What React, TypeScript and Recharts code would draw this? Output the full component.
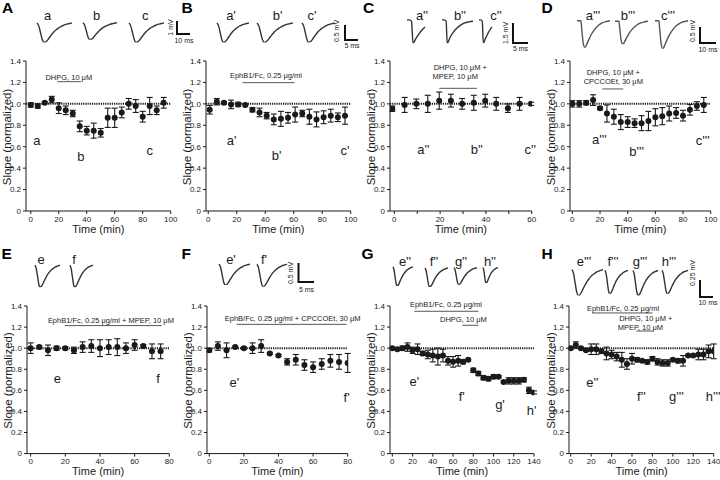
import React from 'react';
import {
  ComposedChart, Scatter, ErrorBar, XAxis, YAxis, ReferenceLine, ReferenceDot,
  LineChart, Line,
} from 'recharts';

const FONT = '"Liberation Sans", Arial, Helvetica, sans-serif';
const INK = '#1a1a1a';

// ---------------- data (time in min, normalized slope, SEM) ----------------
const timeA = [0, 5, 10, 15, 20, 25, 30, 35, 40, 45, 50, 55, 60, 65, 70, 75, 80, 85, 90, 95];
const slopeA = [0.99, 0.98, 1.01, 1.04, 0.96, 0.94, 0.91, 0.79, 0.75, 0.75, 0.73, 0.87, 0.87, 0.92, 1.0, 0.98, 0.88, 0.98, 0.94, 1.01];
const semA = [0.02, 0.02, 0.01, 0.03, 0.05, 0.04, 0.03, 0.05, 0.04, 0.07, 0.04, 0.09, 0.09, 0.05, 0.05, 0.06, 0.05, 0.08, 0.04, 0.05];

const timeB = [1, 6, 11, 16, 21, 26, 31, 36, 41, 46, 51, 56, 61, 66, 71, 76, 81, 86, 91, 96];
const slopeB = [0.945, 1.02, 1.01, 0.995, 0.995, 0.99, 0.945, 0.92, 0.89, 0.855, 0.86, 0.87, 0.9, 0.91, 0.88, 0.855, 0.875, 0.89, 0.875, 0.89];
const semB = [0.04, 0.03, 0.01, 0.04, 0.02, 0.01, 0.02, 0.04, 0.03, 0.05, 0.07, 0.05, 0.07, 0.03, 0.07, 0.07, 0.06, 0.06, 0.04, 0.08];

const timeC = [-0.9, 4.5, 9.6, 14.6, 19.6, 24.7, 29.6, 34.7, 39.7, 44.5, 49.6, 54.7, 59.8];
const slopeC = [0.955, 0.99, 1.0, 1.0, 1.03, 1.03, 1.0, 1.01, 1.03, 1.0, 0.96, 1.0, 1.0];
const semC = [0.025, 0.07, 0.045, 0.08, 0.08, 0.06, 0.05, 0.07, 0.06, 0.06, 0.04, 0.06, 0.015];

const timeD = [0, 5, 10, 15, 20, 25, 30, 35, 40, 45, 50, 55, 60, 65, 70, 75, 80, 85, 90, 95];
const slopeD = [1.0, 1.0, 1.01, 1.035, 0.96, 0.91, 0.88, 0.83, 0.83, 0.82, 0.82, 0.84, 0.875, 0.885, 0.91, 0.915, 0.89, 0.945, 0.98, 0.99];
const semD = [0.03, 0.03, 0.02, 0.05, 0.015, 0.08, 0.07, 0.07, 0.05, 0.04, 0.07, 0.09, 0.08, 0.08, 0.07, 0.05, 0.05, 0.05, 0.04, 0.07];

const timeE = [0, 5, 10, 15, 20, 25, 30, 35, 40, 45, 50, 55, 60, 65, 70, 75];
const slopeE = [1.0, 1.01, 0.98, 1.0, 1.0, 0.98, 1.01, 1.02, 1.0, 1.01, 1.01, 1.0, 1.03, 1.02, 0.97, 0.97];
const semE = [0.05, 0.015, 0.05, 0.02, 0.015, 0.03, 0.05, 0.06, 0.08, 0.07, 0.08, 0.05, 0.05, 0.015, 0.07, 0.07];

const timeF = [0, 5, 10, 15, 20, 25, 30, 35, 40, 45, 50, 55, 60, 65, 70, 75, 80];
const slopeF = [0.98, 1.02, 0.98, 1.01, 1.0, 1.0, 1.02, 0.95, 0.93, 0.87, 0.89, 0.84, 0.82, 0.85, 0.88, 0.87, 0.86];
const semF = [0.015, 0.04, 0.07, 0.01, 0.01, 0.05, 0.06, 0.01, 0.01, 0.03, 0.05, 0.05, 0.05, 0.05, 0.06, 0.07, 0.09];

const timeG = [0, 5, 10, 15, 20, 25, 30, 35, 40, 45, 50, 55, 60, 65, 70, 75, 80, 85, 90, 95, 100, 105, 110, 115, 120, 125, 130, 135, 140];
const slopeG = [1.0, 0.99, 1.0, 1.01, 0.98, 0.99, 0.95, 0.94, 0.93, 0.92, 0.93, 0.88, 0.87, 0.88, 0.87, 0.89, 0.79, 0.76, 0.72, 0.71, 0.73, 0.73, 0.68, 0.69, 0.69, 0.69, 0.7, 0.6, 0.58];
const semG = [0.01, 0.01, 0.02, 0.04, 0.03, 0.05, 0.02, 0.04, 0.06, 0.08, 0.06, 0.04, 0.05, 0.05, 0.02, 0.01, 0.02, 0.02, 0.02, 0.02, 0.02, 0.01, 0.01, 0.03, 0.03, 0.03, 0.02, 0.03, 0.015];

const timeH = [0, 5, 10, 15, 20, 25, 30, 35, 40, 45, 50, 55, 60, 65, 70, 75, 80, 85, 90, 95, 100, 105, 110, 115, 120, 125, 130, 135, 140];
const slopeH = [1.0, 1.03, 1.0, 0.98, 0.99, 0.99, 0.97, 0.95, 0.94, 0.92, 0.89, 0.85, 0.9, 0.89, 0.88, 0.87, 0.9, 0.87, 0.86, 0.86, 0.89, 0.88, 0.88, 0.93, 0.93, 0.94, 0.94, 0.97, 0.97];
const semH = [0.01, 0.03, 0.01, 0.01, 0.05, 0.05, 0.02, 0.06, 0.04, 0.04, 0.07, 0.05, 0.05, 0.02, 0.01, 0.02, 0.02, 0.03, 0.03, 0.03, 0.01, 0.02, 0.05, 0.01, 0.01, 0.05, 0.05, 0.06, 0.07];

// drug application periods (min)
const drugA = [{ start: 19, end: 36 }];
const drugB = [{ start: 24, end: 60.6 }];
const drugC = [{ start: 19.6, end: 36.1 }];
const drugD = [{ start: 21.7, end: 36.8 }];
const drugE = [{ start: 19.8, end: 75.6 }];
const drugF = [{ start: 15.8, end: 79.4 }];
const drugG = [{ start: 21.7, end: 85 }, { start: 69.2, end: 85 }];
const drugH = [{ start: 20.9, end: 80 }, { start: 64.3, end: 80.6 }];

// ticks
const yTicks = [0, 0.2, 0.4, 0.6, 0.8, 1.0, 1.2, 1.4];
const xTicks100 = [0, 20, 40, 60, 80, 100];
const xTicks60 = [0, 10, 20, 30, 40, 50, 60];
const xTicks80 = [0, 20, 40, 60, 80];
const xTicks140 = [0, 20, 40, 60, 80, 100, 120, 140];

// representative fEPSP waveforms (arbitrary time units, normalized amplitude)
const epspTime = [0, 1, 2, 3, 4, 5, 6, 7, 8, 9, 10, 11, 12, 13, 14, 15, 16, 17, 18, 19, 20];
const epspWave = [0, -0.15, -0.5, -0.85, -1.0, -0.97, -0.88, -0.76, -0.64, -0.53, -0.43, -0.35, -0.28, -0.22, -0.17, -0.13, -0.09, -0.06, -0.04, -0.02, 0];
const cShortTime = [0, 1.5, 3, 4, 6, 8, 10, 12];
const cShortWave = [0.06, 0.06, 0, -1.0, -0.78, -0.58, -0.4, -0.26];
const cLongTime = [0, 2, 4, 5, 8, 11, 14, 18, 22, 26, 30];
const cLongWave = [0.06, 0.06, 0, -1.0, -0.72, -0.5, -0.33, -0.18, -0.08, -0.03, 0];
const dTime = [0, 5, 6, 8, 10, 12, 15, 18, 22, 27, 32, 37, 42];
const dWave = [0, 0, -0.3, -0.85, -1.0, -0.9, -0.7, -0.52, -0.34, -0.18, -0.08, -0.03, 0];

const build = (t: number[], v: number[], e: number[]) => t.map((x, i) => ({ t: x, v: v[i], e: e[i] }));

type TextAnn = { text: string; x: number; y: number; size?: number };
type PanelCfg = {
  left: number; right: number; top: number; bottom: number;
  xMin: number; xMax: number; ticks: number[]; major: number;
  data: { t: number; v: number; e: number }[];
  drugs: { start: number; end: number }[]; drugLevels: number[];
  texts: TextAnn[];
};

const panels: PanelCfg[] = [
  {
    left: 26, right: 170.7, top: 61, bottom: 211, xMin: -3.4, xMax: 100, ticks: xTicks100, major: 20,
    data: build(timeA, slopeA, semA), drugs: drugA, drugLevels: [1.207],
    texts: [
      { text: 'DHPG, 10 \u03bcM', x: 27.2, y: 1.245, size: 7.5 },
      { text: 'a', x: 4.3, y: 0.656 }, { text: 'b', x: 35.9, y: 0.507 }, { text: 'c', x: 85, y: 0.569 },
    ],
  },
  {
    left: 206, right: 350.7, top: 61, bottom: 211, xMin: -1.6, xMax: 100, ticks: xTicks100, major: 20,
    data: build(timeB, slopeB, semB), drugs: drugB, drugLevels: [1.198],
    texts: [
      { text: 'EphB1/Fc, 0.25 \u03bcg/ml', x: 40.5, y: 1.267, size: 7.5 },
      { text: "a'", x: 16.4, y: 0.656 }, { text: "b'", x: 48, y: 0.523 }, { text: "c'", x: 96, y: 0.569 },
    ],
  },
  {
    left: 390, right: 531.7, top: 61, bottom: 211, xMin: -1.9, xMax: 60, ticks: xTicks60, major: 20,
    data: build(timeC, slopeC, semC), drugs: drugC, drugLevels: [1.145],
    texts: [
      { text: 'DHPG, 10 \u03bcM +', x: 28.8, y: 1.342, size: 7.5 },
      { text: 'MPEP, 10 \u03bcM', x: 26.6, y: 1.254, size: 7.5 },
      { text: "a''", x: 12.7, y: 0.58 }, { text: "b''", x: 36, y: 0.58 }, { text: "c''", x: 59.4, y: 0.58 },
    ],
  },
  {
    left: 570, right: 710.7, top: 61, bottom: 211, xMin: -1.7, xMax: 100, ticks: xTicks100, major: 20,
    data: build(timeD, slopeD, semD), drugs: drugD, drugLevels: [1.139],
    texts: [
      { text: 'DHPG, 10 \u03bcM +', x: 29.6, y: 1.291, size: 7.5 },
      { text: 'CPCCOEt, 30 \u03bcM', x: 29.6, y: 1.207, size: 7.5 },
      { text: "a'''", x: 19.5, y: 0.669 }, { text: "b'''", x: 46.5, y: 0.56 }, { text: "c'''", x: 94.2, y: 0.663 },
    ],
  },
  {
    left: 27, right: 169.3, top: 305.7, bottom: 453.3, xMin: -2.1, xMax: 80, ticks: xTicks80, major: 20,
    data: build(timeE, slopeE, semE), drugs: drugE, drugLevels: [1.214],
    texts: [
      { text: 'EphB1/Fc, 0.25 \u03bcg/ml + MPEP, 10 \u03bcM', x: 46.3, y: 1.264, size: 7.5 },
      { text: 'e', x: 15.4, y: 0.711 }, { text: 'f', x: 73.5, y: 0.711 },
    ],
  },
  {
    left: 207, right: 347.7, top: 305.7, bottom: 453.3, xMin: -1.3, xMax: 80, ticks: xTicks80, major: 20,
    data: build(timeF, slopeF, semF), drugs: drugF, drugLevels: [1.226],
    texts: [
      { text: 'EphB/Fc, 0.25 \u03bcg/ml + CPCCOEt, 30 \u03bcM', x: 48.2, y: 1.286, size: 7.5 },
      { text: "e'", x: 14.5, y: 0.679 }, { text: "f'", x: 79.4, y: 0.537 },
    ],
  },
  {
    left: 390, right: 534, top: 305.7, bottom: 453.3, xMin: -2.3, xMax: 140, ticks: xTicks140, major: 20,
    data: build(timeG, slopeG, semG), drugs: drugG, drugLevels: [1.35, 1.217],
    texts: [
      { text: 'EphB1/Fc, 0.25 \u03bcg/ml', x: 53, y: 1.413, size: 7.5 },
      { text: 'DHPG, 10 \u03bcM', x: 70.2, y: 1.271, size: 7.5 },
      { text: "e'", x: 21.7, y: 0.686 }, { text: "f'", x: 68.6, y: 0.546 },
      { text: "g'", x: 106.4, y: 0.468 }, { text: "h'", x: 137.7, y: 0.411 },
    ],
  },
  {
    left: 569.3, right: 714, top: 305.7, bottom: 453.3, xMin: -1.7, xMax: 140, ticks: xTicks140, major: 20,
    data: build(timeH, slopeH, semH), drugs: drugH, drugLevels: [1.334, 1.163],
    texts: [
      { text: 'EphB1/Fc, 0.25 \u03bcg/ml', x: 51.2, y: 1.382, size: 7.5 },
      { text: 'DHPG, 10 \u03bcM +', x: 73.5, y: 1.281, size: 7.5 },
      { text: 'MPEP, 10 \u03bcM', x: 68.2, y: 1.202, size: 7.5 },
      { text: "e''", x: 21.2, y: 0.679 }, { text: "f''", x: 69.2, y: 0.546 },
      { text: "g'''", x: 103.5, y: 0.546 }, { text: "h'''", x: 139.4, y: 0.546 },
    ],
  },
];

const dotShape = (p: any) => <circle cx={p.cx} cy={p.cy} r={3} fill={INK} />;

const textShape = (txt: string, size: number) => (p: any) => (
  <text x={p.cx} y={p.cy} dy="0.36em" textAnchor="middle" fontSize={size} fontFamily={FONT} fill={INK}>{txt}</text>
);

function Panel({ cfg }: { cfg: PanelCfg }) {
  const plotW = cfg.right - cfg.left;
  const plotH = cfg.bottom - cfg.top;
  const ML = 40, MT = 22, MR = 20, XH = 34, YW = 30;
  const W = ML + plotW + MR;
  const H = MT + plotH + XH;
  return (
    <div style={{ position: 'absolute', left: cfg.left - ML, top: cfg.top - MT }}>
      <ComposedChart width={W} height={H} margin={{ top: MT, right: MR, bottom: 0, left: ML - YW }}>
        <XAxis
          type="number" dataKey="t" domain={[cfg.xMin, cfg.xMax]} ticks={cfg.ticks} interval={0}
          allowDataOverflow height={XH} stroke={INK} tickSize={3}
          tick={{ fontSize: 8, fill: INK, fontFamily: FONT }}
          tickFormatter={(v: number) => (v % cfg.major === 0 ? String(v) : '')}
        />
        <YAxis
          type="number" dataKey="v" domain={[0, 1.4]} ticks={yTicks} interval={0} width={YW}
          allowDataOverflow stroke={INK} tickSize={3}
          tick={{ fontSize: 8, fill: INK, fontFamily: FONT }}
          tickFormatter={(v: number) => (v === 0 ? '0' : v.toFixed(1))}
        />
        <ReferenceLine y={1} stroke={INK} strokeWidth={2} strokeDasharray="1.2 1" />
        {cfg.drugs.map((d, i) => (
          <ReferenceLine
            key={'d' + i}
            segment={[{ x: d.start, y: cfg.drugLevels[i] }, { x: d.end, y: cfg.drugLevels[i] }]}
            stroke="#555" strokeWidth={1} ifOverflow="visible"
          />
        ))}
        {cfg.texts.map((a, i) => (
          <ReferenceDot
            key={'t' + i} x={a.x} y={a.y} r={1} ifOverflow="visible"
            shape={textShape(a.text, a.size ?? 13)}
          />
        ))}
        <Scatter data={cfg.data} dataKey="v" fill={INK} shape={dotShape} isAnimationActive={false}>
          <ErrorBar dataKey="e" direction="y" width={3} stroke={INK} strokeWidth={1.1} />
        </Scatter>
      </ComposedChart>
    </div>
  );
}

type TraceCfg = { x0: number; x1: number; base: number; min: number; times: number[]; wave: number[]; color?: string };

const traces: TraceCfg[] = [
  // A
  { x0: 37, x1: 72, base: 22.5, min: 42, times: epspTime, wave: epspWave },
  { x0: 83, x1: 117, base: 22.5, min: 39.5, times: epspTime, wave: epspWave },
  { x0: 129, x1: 164, base: 22.5, min: 42, times: epspTime, wave: epspWave },
  // B
  { x0: 217, x1: 249, base: 22.5, min: 42, times: epspTime, wave: epspWave },
  { x0: 257, x1: 293, base: 22.5, min: 42, times: epspTime, wave: epspWave },
  { x0: 302, x1: 335, base: 22.5, min: 42, times: epspTime, wave: epspWave },
  // C
  { x0: 407, x1: 425, base: 21, min: 43, times: cShortTime, wave: cShortWave },
  { x0: 442, x1: 473, base: 21, min: 43, times: cLongTime, wave: cLongWave },
  { x0: 479, x1: 492, base: 21, min: 43, times: cShortTime, wave: cShortWave },
  // D
  { x0: 577, x1: 610, base: 21, min: 48, times: dTime, wave: dWave, color: '#555' },
  { x0: 615, x1: 648, base: 21, min: 44, times: dTime, wave: dWave, color: '#555' },
  { x0: 655, x1: 688, base: 21, min: 49, times: dTime, wave: dWave, color: '#555' },
  // E
  { x0: 35, x1: 60, base: 265, min: 287, times: epspTime, wave: epspWave },
  { x0: 70, x1: 93, base: 265, min: 287, times: epspTime, wave: epspWave },
  // F
  { x0: 219, x1: 250, base: 264.5, min: 285.5, times: epspTime, wave: epspWave },
  { x0: 257, x1: 287, base: 264.5, min: 287, times: epspTime, wave: epspWave },
  // G
  { x0: 393, x1: 413, base: 267, min: 286, times: epspTime, wave: epspWave },
  { x0: 425, x1: 448, base: 268, min: 287, times: epspTime, wave: epspWave },
  { x0: 454, x1: 477, base: 268, min: 285, times: epspTime, wave: epspWave },
  { x0: 483, x1: 498, base: 268, min: 283.5, times: epspTime, wave: epspWave },
  // H
  { x0: 572, x1: 603, base: 270, min: 296, times: epspTime, wave: epspWave },
  { x0: 605, x1: 628, base: 270, min: 293.5, times: epspTime, wave: epspWave },
  { x0: 633, x1: 658, base: 270, min: 295, times: epspTime, wave: epspWave },
  { x0: 662, x1: 688, base: 270, min: 293.5, times: epspTime, wave: epspWave },
];

function Trace({ cfg }: { cfg: TraceCfg }) {
  const amp = cfg.min - cfg.base;
  const pad = 2;
  const top = cfg.base - amp * 0.1;
  const h = amp * 1.1;
  const data = cfg.times.map((t, i) => ({ t, v: cfg.wave[i] }));
  return (
    <div style={{ position: 'absolute', left: cfg.x0 - pad, top: top - pad }}>
      <LineChart width={cfg.x1 - cfg.x0 + 2 * pad} height={h + 2 * pad} data={data}
        margin={{ top: pad, right: pad, bottom: pad, left: pad }}>
        <XAxis dataKey="t" type="number" domain={['dataMin', 'dataMax']} hide />
        <YAxis type="number" domain={[-1, 0.1]} hide allowDataOverflow />
        <Line dataKey="v" type="monotone" dot={false} stroke={cfg.color ?? '#333'} strokeWidth={1.4} isAnimationActive={false} />
      </LineChart>
    </div>
  );
}

const panelLetters = [
  { t: 'A', x: 2, y: 13 }, { t: 'B', x: 181.5, y: 13 }, { t: 'C', x: 363, y: 13 }, { t: 'D', x: 541.5, y: 13 },
  { t: 'E', x: 1.5, y: 258.5 }, { t: 'F', x: 181.5, y: 258.5 }, { t: 'G', x: 361.5, y: 259 }, { t: 'H', x: 541.5, y: 258.5 },
];

const traceLabels = [
  { t: 'a', x: 47.7, y: 19.5 }, { t: 'b', x: 96.7, y: 19.5 }, { t: 'c', x: 145.3, y: 19.5 },
  { t: "a'", x: 231, y: 19.5 }, { t: "b'", x: 277.7, y: 19.5 }, { t: "c'", x: 312, y: 19.5 },
  { t: "a''", x: 422, y: 19.5 }, { t: "b''", x: 460, y: 19.5 }, { t: "c''", x: 496, y: 19.5 },
  { t: "a'''", x: 593, y: 19.5 }, { t: "b'''", x: 628, y: 19.5 }, { t: "c'''", x: 668, y: 19.5 },
  { t: 'e', x: 41, y: 263.5 }, { t: 'f', x: 74, y: 263.5 },
  { t: "e'", x: 231, y: 263.5 }, { t: "f'", x: 264, y: 263.5 },
  { t: "e''", x: 405, y: 265.5 }, { t: "f''", x: 434, y: 265.5 }, { t: "g''", x: 461, y: 265.5 }, { t: "h''", x: 490, y: 265.5 },
  { t: "e'''", x: 584, y: 265.5 }, { t: "f'''", x: 613, y: 265.5 }, { t: "g'''", x: 640, y: 265.5 }, { t: "h'''", x: 669, y: 265.5 },
];

// calibration bars: vertical bar x, y0..y1, horizontal to x2, labels
const scaleBars = [
  { x: 177, y0: 21, y1: 34, x2: 190, v: '1 mV', vx: 172.5, vy: 27.5, h: '10 ms', hx: 184, hy: 43 },
  { x: 345, y0: 25, y1: 40, x2: 358, v: '0.5 mV', vx: 338.5, vy: 31, h: '5 ms', hx: 352, hy: 48 },
  { x: 513, y0: 23, y1: 43, x2: 528, v: '1.5 mV', vx: 507.5, vy: 33, h: '5 ms', hx: 520.5, hy: 51 },
  { x: 700, y0: 27, y1: 43, x2: 716, v: '0.5 mV', vx: 695, vy: 31, h: '10 ms', hx: 708, hy: 52 },
  { x: 298.5, y0: 263, y1: 282, x2: 314, v: '0.5 mV', vx: 292.5, vy: 273, h: '5 ms', hx: 306.5, hy: 292 },
  { x: 700, y0: 280, y1: 297, x2: 713, v: '0.25 mV', vx: 694.5, vy: 273, h: '10 ms', hx: 708, hy: 305 },
];

export default function App() {
  return (
    <div style={{ position: 'absolute', left: 0, top: 0, width: 720, height: 480, background: '#fff', overflow: 'hidden', fontFamily: FONT }}>
      {panels.map((p, i) => <Panel key={i} cfg={p} />)}
      {traces.map((t, i) => <Trace key={i} cfg={t} />)}
      <svg width={720} height={480} style={{ position: 'absolute', left: 0, top: 0, pointerEvents: 'none' }}>
        {panels.map((p, i) => {
          const cx = (p.left + p.right) / 2;
          const cy = (p.top + p.bottom) / 2 + 1;
          const yx = p.left - 14.7;
          return (
            <g key={'ax' + i}>
              <text x={cx} y={p.bottom + 21.5} fontSize={11} fontFamily={FONT} fill={INK} textAnchor="middle">Time (min)</text>
              <text x={yx} y={cy} fontSize={11.5} fontFamily={FONT} fill={INK} textAnchor="middle"
                transform={`rotate(-90 ${yx} ${cy})`}>Slope (normalized)</text>
            </g>
          );
        })}
        {panelLetters.map((l) => (
          <text key={l.t} x={l.x} y={l.y} fontSize={15.5} fontWeight="bold" fontFamily={FONT} fill="#000">{l.t}</text>
        ))}
        {traceLabels.map((l, i) => (
          <text key={i} x={l.x} y={l.y} fontSize={13} fontFamily={FONT} fill={INK} textAnchor="middle">{l.t}</text>
        ))}
        {scaleBars.map((s, i) => (
          <g key={i}>
            <polyline points={`${s.x},${s.y0} ${s.x},${s.y1} ${s.x2},${s.y1}`} fill="none" stroke="#111" strokeWidth={2} />
            <text x={s.vx} y={s.vy} fontSize={7} fontFamily={FONT} fill={INK} textAnchor="middle"
              transform={`rotate(-90 ${s.vx} ${s.vy})`}>{s.v}</text>
            <text x={s.hx} y={s.hy} fontSize={7} fontFamily={FONT} fill={INK} textAnchor="middle">{s.h}</text>
          </g>
        ))}
      </svg>
    </div>
  );
}
